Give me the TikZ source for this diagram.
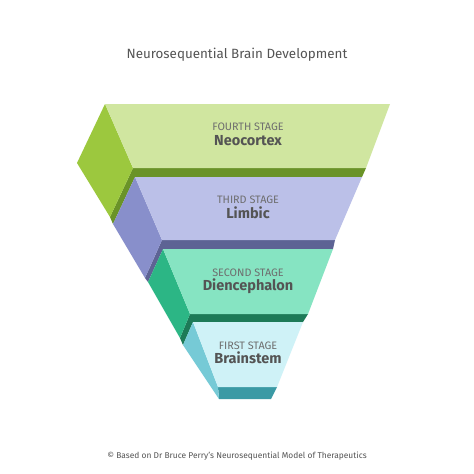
\documentclass[tikz,border=0pt]{standalone}
\usepackage{fontspec}
\setmainfont{Fira Sans}
\usepackage{tikz}
\usetikzlibrary{positioning}

\definecolor{neoFront}{HTML}{D0E6A0}
\definecolor{neoSide}{HTML}{9CC83E}
\definecolor{neoBottom}{HTML}{6A9328}
\definecolor{limFront}{HTML}{BBC0E8}
\definecolor{limSide}{HTML}{888FCB}
\definecolor{limBottom}{HTML}{5D6394}
\definecolor{dieFront}{HTML}{86E4C2}
\definecolor{dieSide}{HTML}{2CB685}
\definecolor{dieBottom}{HTML}{1D7A57}
\definecolor{brFront}{HTML}{CFF2F7}
\definecolor{brSide}{HTML}{76CAD6}
\definecolor{brBottom}{HTML}{3B9AA5}
\definecolor{stagegray}{HTML}{6E6E6E}
\definecolor{namegray}{HTML}{545454}

\begin{document}
\begin{tikzpicture}[x=1pt, y=-1pt,
    stagename/.style={font=\fontsize{10.8}{12}\selectfont, text=stagegray, inner sep=0pt},
    regionname/.style={font=\fontsize{14.5}{16}\selectfont\bfseries, text=namegray, inner sep=0pt},
    caption/.style={font=\fontsize{13.4}{15}\selectfont, text=namegray, inner sep=0pt}
]
    \useasboundingbox[fill=white] (0,0) rectangle (474,474);

    % Title
    \node[caption] (title) at (237,55) {Neurosequential Brain Development};

    % Fourth stage: Neocortex
    \fill[neoBottom] (133,168) -- (366,168) -- (362,177) -- (135,177) -- (113,224) -- (110,217) -- cycle;
    \fill[neoSide] (105,104) -- (77,163) -- (110,217) -- (133,168) -- cycle;
    \fill[neoFront] (105,104) -- (390,104) -- (366,168) -- (133,168) -- cycle;
    \node[stagename] (neoStage) at (248,127) {FOURTH STAGE};
    \node[regionname] (neoName) at (248,141) {Neocortex};

    % Third stage: Limbic
    \fill[limBottom] (162,240) -- (335,240) -- (333,249) -- (163,249) -- (148,282) -- (145,278) -- cycle;
    \fill[limSide] (135,177) -- (113,224) -- (145,278) -- (162,240) -- cycle;
    \fill[limFront] (135,177) -- (362,177) -- (335,240) -- (162,240) -- cycle;
    \node[stagename] (limStage) at (248,200) {THIRD STAGE};
    \node[regionname] (limName) at (248,213) {Limbic};

    % Second stage: Diencephalon
    \fill[dieBottom] (190,314) -- (308,314) -- (303,322) -- (193,322) -- (183,345) -- (180,338) -- cycle;
    \fill[dieSide] (163,249) -- (148,282) -- (180,338) -- (190,314) -- cycle;
    \fill[dieFront] (163,249) -- (333,249) -- (308,314) -- (190,314) -- cycle;
    \node[stagename] (dieStage) at (248,273) {SECOND STAGE};
    \node[regionname] (dieName) at (248,286) {Diencephalon};

    % First stage: Brainstem
    \fill[brBottom] (218,387) -- (277,387) -- (271,399) -- (219,399) -- cycle;
    \fill[brSide] (193,322) -- (183,345) -- (219,399) -- (218,387) -- cycle;
    \fill[brFront] (193,322) -- (303,322) -- (277,387) -- (218,387) -- cycle;
    \node[stagename] (brStage) at (248,346) {FIRST STAGE};
    \node[regionname] (brName) at (248,358) {Brainstem};

    % Footer
    \node[font=\fontsize{8.4}{10}\selectfont, text=namegray, inner sep=0pt] (credit) at (237,456) {\textcopyright{} Based on Dr Bruce Perry's Neurosequential Model of Therapeutics};
\end{tikzpicture}
\end{document}
